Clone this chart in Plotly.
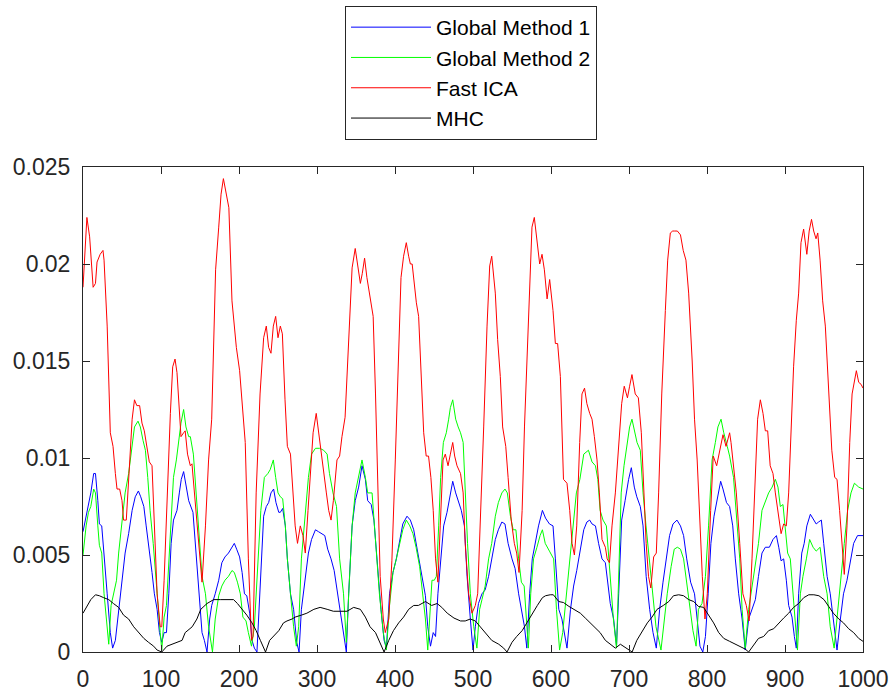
import plotly.graph_objects as go

# (x, value) pairs
GM1_PTS = [(0,6.2e-3),(4,7.0e-3),(7,7.5e-3),(10,8.2e-3),(13.7,9.2e-3),(16,9.2e-3),(19,7.8e-3),(21,6.6e-3),(24,6.5e-3),(27,4.8e-3),(31,3.0e-3),(35,1.0e-3),(38,0.2e-3),(41.5,0.6e-3),(45.7,2.2e-3),(50,3.9e-3),(54,5.1e-3),(58.5,6.1e-3),(63,7.3e-3),(67,8.0e-3),(71,8.3e-3),(74,8.0e-3),(78,7.5e-3),(81,6.5e-3),(84,5.6e-3),(88.5,4.1e-3),(91.5,3.0e-3),(95,2.2e-3),(98,1.0e-3),(101,0.5e-3),(104,1.0e-3),(107,1.0e-3),(110,3.0e-3),(113,5.6e-3),(116,6.8e-3),(120.5,7.3e-3),(123.5,8.2e-3),(126,8.9e-3),(129,9.3e-3),(132,8.5e-3),(135.5,7.8e-3),
(141,7.2e-3),(144,5.6e-3),(148,3.0e-3),(152.6,1.0e-3),(155.6,0.6e-3),(159,0.0),(162.4,1.7e-3),(165,2.4e-3),(169.5,3.0e-3),(174,3.7e-3),(178,4.6e-3),(182,4.9e-3),(186.5,5.1e-3),(191,5.4e-3),(194,5.6e-3),(197,5.3e-3),(200.8,4.9e-3),(204,4.1e-3),(207,3.0e-3),(210,2.9e-3),(213.7,2.0e-3),(216.7,0.6e-3),(219.7,0.2e-3),(223,0.0),(227.4,3.9e-3),(231.6,7.0e-3),(235,7.5e-3),(238,7.7e-3),(241,8.2e-3),(244.4,8.4e-3),(247.4,7.7e-3),(251,7.2e-3),(253,7.2e-3),(256,7.4e-3),(259.4,6.5e-3),(262,4.8e-3),(266,3.0e-3),(270,2.2e-3),(274,0.5e-3),(277,0.0),(280,2.2e-3),(285,3.9e-3),(289,5.1e-3),(293,5.8e-3),(298,6.3e-3),(302,6.2e-3),(306,6.1e-3),(310,6.0e-3),(313.7,5.3e-3),(318,4.8e-3),(322,4.2e-3),(326.5,3.0e-3),(331,1.7e-3),(334,1.0e-3),(337.6,0.0),(340.6,3.0e-3),(345,6.5e-3),(349,7.8e-3),(353.4,8.5e-3),(357.7,9.6e-3),
(362,8.9e-3),(365,7.8e-3),(369.5,7.6e-3),(373,6.8e-3),(376,5.1e-3),(379,3.4e-3),(382,2.2e-3),(386,0.6e-3),(389,0.2e-3),(393,3.0e-3),(397.4,4.1e-3),(401.7,4.8e-3),(406,5.8e-3),(410,6.6e-3),(415.4,7.0e-3),(419.7,6.8e-3),(424,6.3e-3),(427,5.6e-3),(430,4.8e-3),(434.6,3.7e-3),(439,2.9e-3),(442,1.3e-3),(445.5,0.3e-3),(449,1.0e-3),(452,0.8e-3),(455,3.0e-3),(459,5.1e-3),(462.4,6.5e-3),(466.7,7.2e-3),(471,8.2e-3),(474,8.8e-3),(477.8,8.2e-3),(481,7.8e-3),(485,7.3e-3),(489,6.5e-3),(492.4,3.9e-3),(496.6,1.7e-3),(500,0.1e-3),(503,1.3e-3),(507,2.5e-3),(511.5,3.0e-3),(515.6,3.2e-3),(520,3.9e-3),(524,4.8e-3),(528.6,5.8e-3),(532.5,6.3e-3),(537,6.7e-3),(541,6.6e-3),(545,5.6e-3),(550,4.8e-3),(554,4.3e-3),(558.5,3.0e-3),(563,2.0e-3),(566,1.3e-3),(569,0.2e-3),(572.6,3.0e-3),(576,4.8e-3),(580,5.6e-3),(584,6.5e-3),(589,7.3e-3),(593,6.9e-3),(598,6.6e-3),
(602.6,6.5e-3),(605.6,4.8e-3),(610,2.2e-3),(614,1.7e-3),(616.7,1.0e-3),(620.5,0.2e-3),(625,2.2e-3),(629,3.4e-3),(633,4.2e-3),(637.6,5.4e-3),(642,6.3e-3),(646,6.7e-3),(649.6,6.8e-3),(652.6,6.6e-3),(657,6.5e-3),(661,5.6e-3),(665.4,4.8e-3),(669.7,4.6e-3),(673,3.4e-3),(676,2.5e-3),(680.3,1.7e-3),(684,0.3e-3),(686.8,3.0e-3),(690.6,6.8e-3),(695,7.8e-3),(699.5,8.9e-3),(703,9.5e-3),(706.8,8.5e-3),(710,8.0e-3),(714.5,7.5e-3),(718,6.5e-3),(722,3.9e-3),(726.5,2.2e-3),(730.8,1.0e-3),(735,0.2e-3),(739.3,2.2e-3),(743.6,3.6e-3),(748,4.8e-3),(752,6.0e-3),(756.4,6.6e-3),(761.5,6.8e-3),(766,6.5e-3),(770,6.0e-3),(774,4.8e-3),(779,3.6e-3),(784,3.0e-3),(787.4,1.7e-3),(791,0.3e-3),(794.6,0.0),(798,0.8e-3),(801.5,3.0e-3),(805,5.6e-3),(809,7.0e-3),(813,7.8e-3),(817.5,8.8e-3),(820.5,8.4e-3),(825,7.7e-3),(829,7.5e-3),
(833,6.5e-3),(836.3,4.8e-3),(840.6,3.0e-3),(845,1.7e-3),(849,0.1e-3),(853.4,1.7e-3),(857.7,2.2e-3),(862,2.7e-3),(866,3.9e-3),(870.5,5.1e-3),(874.8,5.4e-3),(880,5.4e-3),(884.6,5.8e-3),(889,6.0e-3),(892,5.4e-3),(895,4.7e-3),(898.3,4.8e-3),(901.7,3.7e-3),(904.7,2.4e-3),(909,1.8e-3),(912,0.8e-3),(914.5,0.2e-3),(917.5,3.0e-3),(921.5,5.1e-3),(924.6,5.6e-3),(928,6.5e-3),(932.5,7.1e-3),(937,6.8e-3),(940,6.6e-3),(943,6.7e-3),(946.6,6.8e-3),(949.6,5.6e-3),(954,3.9e-3),(958,3.0e-3),(962,1.7e-3),(966.7,0.1e-3),(971,1.7e-3),(975,3.0e-3),(979.5,3.7e-3),(984,4.8e-3),(988,5.6e-3),(993,6.0e-3),(1000,6.0e-3)]

GM2_PTS = [(0,5.0e-3),(4,6.5e-3),(7,7.2e-3),(10,7.5e-3),(13.7,8.4e-3),(16,8.2e-3),(19,6.5e-3),(21,5.5e-3),(24,5.1e-3),(27,3.0e-3),(30,1.7e-3),(33,0.4e-3),(36,2.4e-3),(39,3.0e-3),(43,3.7e-3),(45.7,5.1e-3),(50,6.8e-3),(54,8.2e-3),(58.5,9.2e-3),(63,10.8e-3),(66,11.6e-3),(70.5,11.9e-3),(73.5,11.6e-3),(77,10.9e-3),(80,10.4e-3),(83,9.0e-3),(86,7.3e-3),(90,5.6e-3),(93,3.9e-3),(96,2.5e-3),(99,1.0e-3),(101,0.1e-3),(104,1.8e-3),(107,2.4e-3),(110,4.8e-3),(113,7.3e-3),(116,9.0e-3),(119.7,9.9e-3),(122.6,10.8e-3),(125.6,11.8e-3),(129,12.5e-3),(132,11.6e-3),(135.5,11.1e-3),
(137.6,11.1e-3),(141.5,10.2e-3),(145,8.2e-3),(148,6.1e-3),(152.6,3.9e-3),(157,3.0e-3),(161,1.3e-3),(166,0.0),(169.5,1.7e-3),(174,2.9e-3),(178,3.4e-3),(182,3.7e-3),(186.5,3.9e-3),(191,4.2e-3),(194,4.1e-3),(198,3.6e-3),(201.7,3.0e-3),(205,1.8e-3),(209,1.6e-3),(212,1.0e-3),(216,0.3e-3),(219.7,1.3e-3),(224,4.8e-3),(228,7.3e-3),(232.5,9.0e-3),(237,9.2e-3),(240,9.4e-3),(244,9.9e-3),(247,9.0e-3),(250,8.2e-3),(253,8.0e-3),(256,7.9e-3),(259.4,6.5e-3),(262,4.8e-3),(266.7,2.7e-3),(270,1.3e-3),(273.5,0.3e-3),(276.5,1.3e-3),(280,4.8e-3),(285,7.3e-3),(289,9.0e-3),(293,10.2e-3),(298,10.5e-3),(303.4,10.5e-3),(308.5,10.4e-3),(313,10.2e-3),(316,9.2e-3),(320.5,8.2e-3),(325,7.5e-3),(329,4.8e-3),(334,3.0e-3),(337.6,0.5e-3),(340.6,3.0e-3),(345,6.5e-3),(349,8.2e-3),(353.4,9.0e-3),(357.7,9.9e-3),
(362,9.0e-3),(365,8.2e-3),(370.6,8.2e-3),(373.5,6.5e-3),(377,4.8e-3),(380,3.0e-3),(385,1.0e-3),(389,0.1e-3),(393,2.4e-3),(397.4,4.1e-3),(401.7,4.8e-3),(406,5.6e-3),(410,6.3e-3),(414.5,6.8e-3),(419,6.5e-3),(423,6.1e-3),(427,5.4e-3),(431.6,4.4e-3),(435.8,3.0e-3),(439,1.7e-3),(442,0.1e-3),(445.5,2.2e-3),(447.4,3.7e-3),(450.4,3.7e-3),(453,3.9e-3),(456,6.5e-3),(458.5,9.0e-3),(462,10.8e-3),(465.8,11.3e-3),(468.8,12.0e-3),(471,12.6e-3),(474,13.0e-3),(477.8,12.0e-3),(481,11.6e-3),(484,11.3e-3),(487.4,10.8e-3),(490,8.2e-3),(493,5.6e-3),(496.6,3.0e-3),(501,1.3e-3),(505,0.2e-3),(508.5,2.2e-3),(511.5,2.7e-3),(515.6,3.4e-3),(520,4.8e-3),(524,5.6e-3),(528.6,7.0e-3),(532.5,7.7e-3),(537,8.2e-3),(541,8.4e-3),(544,8.2e-3),(548,7.0e-3),(551.5,6.3e-3),(555,6.3e-3),(558.5,4.8e-3),(562,3.6e-3),(565.6,3.4e-3),(569,1.3e-3),(571,0.2e-3),(574,3.0e-3),(577.6,4.8e-3),(582,5.4e-3),(586,6.0e-3),(589,6.3e-3),(592.6,5.6e-3),(598,5.2e-3),
(603.4,4.8e-3),(607,2.2e-3),(611,0.1e-3),(615,1.0e-3),(620,3.0e-3),(624,4.8e-3),(628,6.5e-3),(632.5,8.2e-3),(637,8.9e-3),(642,10.2e-3),(648,10.4e-3),(652.6,9.8e-3),(657,9.6e-3),(660,8.9e-3),(663,7.3e-3),(666.7,6.8e-3),(671,6.5e-3),(674,4.8e-3),(677,3.0e-3),(680,1.7e-3),(684,0.2e-3),(687,4.8e-3),(690,8.2e-3),(693.6,9.6e-3),(697.4,10.6e-3),(700.8,11.6e-3),(703.8,12.0e-3),(707.3,11.3e-3),(710.3,10.8e-3),(714.5,10.4e-3),(718,8.2e-3),(721.8,6.5e-3),(726,4.8e-3),(729.5,3.0e-3),(734.6,1.3e-3),(741,0.1e-3),(745,1.7e-3),(749,3.0e-3),(754,4.4e-3),(758,5.3e-3),(762,5.4e-3),(766,5.3e-3),(770,4.8e-3),(774,3.6e-3),(779,2.2e-3),(782,1.1e-3),(786,0.3e-3),(789,2.2e-3),(793.6,2.5e-3),(798,3.9e-3),(802,6.5e-3),(806.5,9.9e-3),(810.7,10.8e-3),(814,11.6e-3),(818,12.0e-3),(821.5,11.3e-3),(826,10.6e-3),(829,10.1e-3),
(834,9.0e-3),(837.6,7.3e-3),(842,4.8e-3),(845,2.2e-3),(849,0.2e-3),(853.4,2.2e-3),(857.7,3.4e-3),(862,4.4e-3),(866,5.6e-3),(870.5,7.3e-3),(874.8,7.8e-3),(879,8.2e-3),(883.5,8.5e-3),(887.6,8.9e-3),(891,8.5e-3),(894,7.5e-3),(897.4,7.6e-3),(900.4,6.5e-3),(903.4,5.1e-3),(906.8,4.8e-3),(910,3.0e-3),(913,1.3e-3),(916,0.1e-3),(919.7,3.0e-3),(923,3.9e-3),(927.4,4.8e-3),(931.6,5.8e-3),(936,5.4e-3),(940,5.2e-3),(945,5.4e-3),(949.6,3.9e-3),(954,3.0e-3),(958,1.3e-3),(963,0.2e-3),(967.5,2.2e-3),(971.8,3.7e-3),(976,5.6e-3),(980.3,7.3e-3),(984.6,8.2e-3),(989,8.7e-3),(994.5,8.5e-3),(1000,8.4e-3)]

ICA_PTS = [(0,18.8e-3),(5,22.4e-3),(8.5,21.4e-3),(13,18.8e-3),(16,19.0e-3),(18,20.1e-3),(22,20.5e-3),(25.6,20.7e-3),(27,20.2e-3),(31,16.8e-3),(35,11.3e-3),(38.5,10.6e-3),(41.5,9.2e-3),(43.6,8.4e-3),(47,8.4e-3),(50,7.8e-3),(52,6.8e-3),(55.5,6.8e-3),(60,9.9e-3),(63,12.0e-3),(66,13.0e-3),(69,12.7e-3),(72.6,12.7e-3),(75.6,11.8e-3),(78.6,11.4e-3),(82,10.6e-3),(85,9.8e-3),(88.5,9.6e-3),(91.5,6.8e-3),(95,3.0e-3),(99,1.3e-3),(101,1.3e-3),(104,3.7e-3),(108,8.2e-3),(112,12.3e-3),(115,14.7e-3),(118,15.1e-3),(120.5,14.4e-3),(124,12.3e-3),(125.6,11.1e-3),(129,11.3e-3),(131,11.4e-3),(134,10.2e-3),(137.6,9.6e-3),
(139.7,9.7e-3),(143,8.2e-3),(148,5.6e-3),(152.6,3.6e-3),(157,6.5e-3),(161,9.9e-3),(165,12.0e-3),(170,19.7e-3),(174,21.9e-3),(177,23.6e-3),(180,24.4e-3),(183.8,23.6e-3),(187,22.9e-3),(191,18.1e-3),(196.6,15.7e-3),(200.8,14.5e-3),(204,12.8e-3),(208,10.8e-3),(212,4.8e-3),(216,0.6e-3),(218,0.8e-3),(222,8.2e-3),(227,13.3e-3),(231.6,16.2e-3),(235,16.8e-3),(238,15.7e-3),(241,15.4e-3),(244,16.8e-3),(247,17.3e-3),(250,16.2e-3),(253,16.8e-3),(255.6,16.4e-3),(259,13.0e-3),(262,10.6e-3),(266,10.2e-3),(269,8.2e-3),(272,6.5e-3),(275,5.6e-3),(278.6,6.5e-3),(282,6.0e-3),(285,5.1e-3),(288.5,7.3e-3),(292.5,9.9e-3),(295,11.3e-3),(299,12.3e-3),(302,11.3e-3),(304,10.9e-3),(308.5,9.4e-3),(312,8.2e-3),(315,7.3e-3),(318,6.8e-3),(321,7.8e-3),(325.6,9.9e-3),(329,10.1e-3),(332,11.1e-3),(336,12.1e-3),(340.6,15.7e-3),(345,19.8e-3),(349,20.8e-3),(352.6,19.8e-3),(355.6,19.0e-3),(358,19.5e-3),(361,20.3e-3),(364,19.3e-3),(368,18.2e-3),
(372,17.3e-3),(375,13.3e-3),(378,8.2e-3),(381,3.9e-3),(385,1.7e-3),(387.5,1.0e-3),(392,1.7e-3),(396,4.7e-3),(400.4,9.9e-3),(404.7,15.0e-3),(407.7,19.3e-3),(411,20.4e-3),(414.5,21.1e-3),(417.5,20.4e-3),(419.7,20.0e-3),(422,20.0e-3),(425,18.8e-3),(427.4,18.0e-3),(430.3,17.3e-3),(433.3,14.2e-3),(436.8,11.3e-3),(440,10.1e-3),(443,10.1e-3),(446,9.0e-3),(449,7.3e-3),(452,4.8e-3),(455,3.6e-3),(458,6.5e-3),(461.6,9.9e-3),(464.5,10.2e-3),(468,9.6e-3),(471,10.2e-3),(474,10.8e-3),(476.5,10.1e-3),(479.5,9.6e-3),(484,9.2e-3),(487.4,8.2e-3),(490,5.6e-3),(494.4,3.0e-3),(498.7,2.0e-3),(503,2.4e-3),(506,3.0e-3),(509.4,6.5e-3),(513.7,11.6e-3),(518,16.8e-3),(521.4,19.9e-3),(524,20.4e-3),(528.6,18.5e-3),(531.6,16.1e-3),(535,14.2e-3),(538,11.6e-3),(542,10.6e-3),(545,9.0e-3),(549,6.8e-3),(553,5.6e-3),(556,5.1e-3),(559,4.1e-3),(563,7.3e-3),(566,11.6e-3),(569,15.0e-3),(572.6,18.5e-3),(575.6,21.9e-3),(578.6,22.4e-3),(582,21.1e-3),(585.5,20.0e-3),(588.5,20.5e-3),(591.5,19.7e-3),(595,18.2e-3),(598.3,19.2e-3),
(602.6,17.6e-3),(605.6,15.9e-3),(608.5,15.9e-3),(612,14.2e-3),(616,8.9e-3),(620.5,8.7e-3),(624,7.3e-3),(627,5.6e-3),(630,5.0e-3),(633,6.5e-3),(636.8,10.8e-3),(639.7,13.3e-3),(643,13.6e-3),(646,12.8e-3),(649.6,12.3e-3),(652.6,12.0e-3),(655.6,11.1e-3),(659,9.9e-3),(662,8.2e-3),(665.4,5.8e-3),(669.7,5.4e-3),(672,4.8e-3),(675,4.6e-3),(678.2,6.5e-3),(682.5,8.2e-3),(686.8,10.6e-3),(690.6,12.8e-3),(693.9,13.7e-3),(698,13.1e-3),(700.8,13.7e-3),(703.8,14.3e-3),(708,13.3e-3),(712,13.1e-3),(715.8,11.3e-3),(718.8,8.2e-3),(722,5.6e-3),(725,3.9e-3),(728,3.3e-3),(731.6,4.9e-3),(735,5.1e-3),(738,8.2e-3),(742,13.3e-3),(746.6,17.6e-3),(749.6,20.2e-3),(753,21.6e-3),(756,21.7e-3),(758,21.7e-3),(762,21.7e-3),(766,21.5e-3),(769.5,20.7e-3),(773,20.2e-3),(776.5,18.5e-3),(781,15.0e-3),(784,12.0e-3),(787.4,9.9e-3),(791,6.5e-3),(794,3.9e-3),(797.4,1.7e-3),(800.4,3.0e-3),(804.7,7.3e-3),(808,10.1e-3),(812.4,9.6e-3),(816.2,10.4e-3),(820.5,11.2e-3),(824.4,10.6e-3),(829,11.3e-3),
(830.8,10.8e-3),(834,9.6e-3),(837.6,8.2e-3),(842,5.6e-3),(846,3.0e-3),(850.4,2.4e-3),(854,1.6e-3),(857.7,4.8e-3),(861,8.2e-3),(864.9,12.0e-3),(868.4,13.0e-3),(871.8,12.3e-3),(874.8,11.4e-3),(877.8,11.4e-3),(881,9.6e-3),(884.6,9.2e-3),(887.6,8.2e-3),(891,7.3e-3),(895,6.1e-3),(898.3,6.6e-3),(901.7,6.5e-3),(904.7,8.2e-3),(907.7,11.6e-3),(911,14.7e-3),(914.5,17.1e-3),(917.5,18.5e-3),(920.5,21.1e-3),(923.9,21.8e-3),(928,20.5e-3),(931,21.7e-3),(934,22.3e-3),(936.8,21.7e-3),(939.8,21.3e-3),(942,21.6e-3),(945,20.2e-3),(948.3,18.1e-3),(951.7,16.8e-3),(956,13.3e-3),(960,10.4e-3),(963.7,9.0e-3),(966.7,8.9e-3),(970,7.3e-3),(973,5.6e-3),(976,4.0e-3),(979.5,6.5e-3),(983,10.8e-3),(986,13.3e-3),(989,14.0e-3),(991.5,14.5e-3),(994.5,13.9e-3),(997.5,13.8e-3),(1000,13.6e-3)]

MHC_PTS = [(0,2.0e-3),(6,2.4e-3),(10,2.7e-3),(16,2.95e-3),(21,2.9e-3),(26.5,2.8e-3),(33,2.7e-3),(39,2.5e-3),(45.7,2.3e-3),(52,1.9e-3),(58.5,1.7e-3),(65,1.3e-3),(71,1.0e-3),(78,0.7e-3),(84,0.5e-3),(90.6,0.3e-3),(95,0.1e-3),(101,0.0),(107.7,0.3e-3),(114,0.4e-3),(120.5,0.5e-3),(127,0.6e-3),(131,1.0e-3),(137.6,1.2e-3),
(140,1.3e-3),(146,1.7e-3),(151,2.2e-3),(159,2.5e-3),(167.5,2.7e-3),(176,2.7e-3),(184.6,2.7e-3),(193,2.7e-3),(198,2.5e-3),(204,2.2e-3),(210,1.9e-3),(216.7,1.5e-3),(222,1.1e-3),(227.4,0.6e-3),(234,0.0),(239.3,0.6e-3),(244.4,0.8e-3),(251,1.1e-3),(257,1.5e-3),(261.5,1.6e-3),(268,1.7e-3),(272,1.8e-3),(280,1.9e-3),(287,2.0e-3),(296,2.2e-3),(304,2.3e-3),(313,2.2e-3),(321,2.1e-3),(330,2.1e-3),(338.5,2.1e-3),(347,2.3e-3),(355.6,2.2e-3),(362,1.8e-3),(368,1.3e-3),(375,1.0e-3),(380,0.5e-3),(386,0.0),
(392,0.6e-3),(398,1.1e-3),(404.7,1.5e-3),(411,1.8e-3),(417.5,2.2e-3),(424,2.4e-3),(430,2.4e-3),(439,2.6e-3),(447,2.4e-3),(454,2.5e-3),(460,2.3e-3),(467,2.0e-3),(475.6,1.75e-3),(484,1.6e-3),(490,1.6e-3),(496.6,1.7e-3),(503,1.6e-3),(509.4,1.3e-3),(516,1.0e-3),(524,0.6e-3),(533,0.4e-3),(539.3,0.2e-3),(543.6,0.0),(550,0.5e-3),(556,0.8e-3),(563,1.1e-3),(569,1.5e-3),(576,2.0e-3),(582.5,2.4e-3),(589,2.8e-3),(593,2.9e-3),(599,2.95e-3),
(603,2.95e-3),(610,2.6e-3),(616,2.55e-3),(623,2.35e-3),(629,2.2e-3),(637.6,2.0e-3),(644,1.75e-3),(650.4,1.5e-3),(657,1.2e-3),(663,1.0e-3),(669.7,0.6e-3),(676,0.4e-3),(682.5,0.2e-3),(689,0.4e-3),(695,0.25e-3),(699.6,0.15e-3),(704,0.0),(710,0.6e-3),(717,1.1e-3),(723.5,1.5e-3),(729.5,1.8e-3),(736,2.2e-3),(744,2.4e-3),(751,2.6e-3),(757,2.9e-3),(763.7,2.95e-3),(770,2.9e-3),(776.5,2.7e-3),(783,2.6e-3),(789,2.35e-3),(795.6,2.3e-3),(802,1.9e-3),(808.5,1.5e-3),(815,1.0e-3),(821.5,0.7e-3),(829,0.55e-3),
(836.3,0.4e-3),(843,0.25e-3),(849,0.15e-3),(853.4,0.0),(860,0.4e-3),(866,0.7e-3),(872.6,0.8e-3),(879,1.1e-3),(885.5,1.2e-3),(892,1.5e-3),(898.3,1.75e-3),(904.7,2.0e-3),(911,2.3e-3),(917.5,2.5e-3),(924,2.8e-3),(930.5,2.95e-3),(937,2.95e-3),(943.5,2.9e-3),(950,2.7e-3),(956,2.35e-3),(962,2.0e-3),(969,1.7e-3),(975,1.5e-3),(981.6,1.2e-3),(988,1.0e-3),(994.5,0.7e-3),(1000,0.55e-3)]

SERIES = [
    ("Global Method 1", GM1_PTS, "#0000ff"),
    ("Global Method 2", GM2_PTS, "#00ff00"),
    ("Fast ICA", ICA_PTS, "#ff0000"),
    ("MHC", MHC_PTS, "#000000"),
]

X_TICKS = [0, 100, 200, 300, 400, 500, 600, 700, 800, 900, 1000]
Y_TICKS = [0, 0.005, 0.01, 0.015, 0.02, 0.025]
Y_TICK_TEXT = ["0", "0.005", "0.01", "0.015", "0.02", "0.025"]

FONT = "Arial, 'Liberation Sans', Helvetica, sans-serif"
AXIS_COLOR = "#262626"

W, H = 893, 693
M_L, M_R, M_T, M_B = 83, 5, 167, 41
PLOT_RIGHT_PX = 863           # right edge of the axes box in the reference
PAPER_W = W - M_L - M_R
PLOT_H = H - M_T - M_B

fig = go.Figure()
for name, pts, color in SERIES:
    fig.add_trace(go.Scatter(
        x=[p[0] for p in pts], y=[p[1] for p in pts],
        mode="lines", name=name,
        line=dict(color=color, width=1),
    ))

axis_common = dict(
    showline=True, linecolor=AXIS_COLOR, linewidth=1, mirror="ticks",
    ticks="inside", ticklen=7, tickcolor=AXIS_COLOR, tickwidth=1,
    showgrid=False, zeroline=False, automargin=False,
    tickfont=dict(family=FONT, size=23, color=AXIS_COLOR),
)

fig.update_layout(
    width=W, height=H,
    margin=dict(l=M_L, r=M_R, t=M_T, b=M_B),
    paper_bgcolor="white", plot_bgcolor="white",
    xaxis=dict(range=[0, 1000], tickvals=X_TICKS, ticklabelstandoff=6,
               domain=[0, (PLOT_RIGHT_PX - M_L) / PAPER_W], **axis_common),
    yaxis=dict(range=[0, 0.025], tickvals=Y_TICKS, ticktext=Y_TICK_TEXT,
               ticklabelstandoff=7, **axis_common),
    legend=dict(
        x=(345 - M_L) / PAPER_W, y=1 + (M_T - 6) / PLOT_H,
        xanchor="left", yanchor="top",
        bordercolor=AXIS_COLOR, borderwidth=1, bgcolor="white",
        font=dict(family=FONT, size=21, color="#000000"),
        itemwidth=80, tracegroupgap=0,
    ),
    showlegend=True,
)

fig.write_html("out.html")
